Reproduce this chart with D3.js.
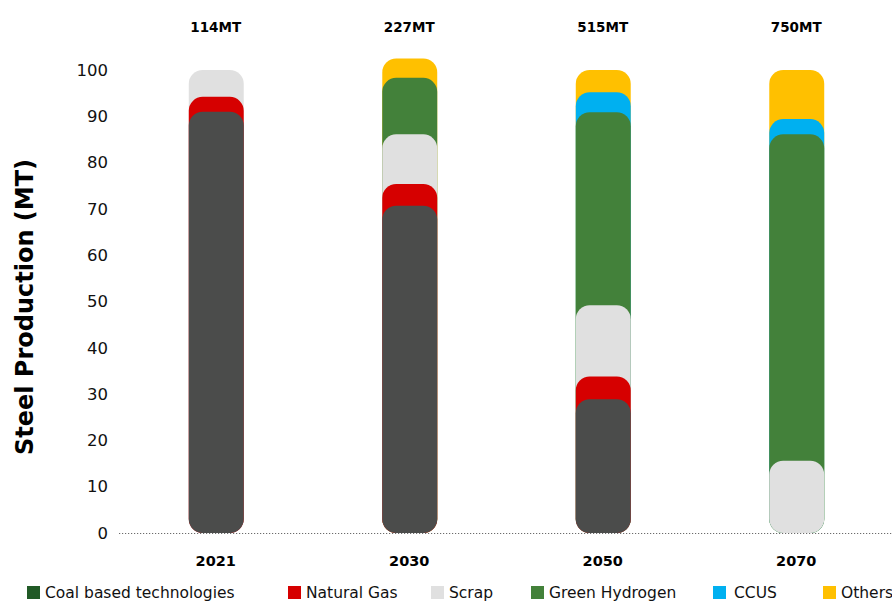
<!DOCTYPE html>
<html><head><meta charset="utf-8">
<script src="https://cdn.jsdelivr.net/npm/d3@7"></script>
<style>body{margin:0;background:#fff}svg{display:block}</style>
</head><body>
<svg id="c" width="892" height="602"></svg>
<script>
const years = ["2021", "2030", "2050", "2070"];
const totals = ["114MT", "227MT", "515MT", "750MT"];
const seriesNames = ["Coal based technologies", "Natural Gas", "Scrap", "Green Hydrogen", "CCUS", "Others"];
const coal = [91.0, 70.7, 28.9, 0];
const naturalGas = [3.2, 4.7, 4.9, 0];
const scrap = [5.8, 10.7, 15.4, 15.6];
const greenHydrogen = [0, 12.2, 41.7, 70.5];
const ccus = [0, 0, 4.3, 3.3];
const others = [0, 4.2, 4.8, 10.6];
const yTicks = [0, 10, 20, 30, 40, 50, 60, 70, 80, 90, 100];

const barColors = ["#4b4c4b", "#d60000", "#e0e0e0", "#43813a", "#00b0f0", "#ffc000"];
const legendColors = ["#215a26", "#d60000", "#e0e0e0", "#43813a", "#00b0f0", "#ffc000"];
const values = [coal, naturalGas, scrap, greenHydrogen, ccus, others];

const svg = d3.select("#c");
const font = "'DejaVu Sans', sans-serif";

const x = d3.scaleBand().domain(years).range([119, 893]).paddingInner(0.716).paddingOuter(0.358);
const y = d3.scaleLinear().domain([0, 100]).range([533, 70]);

const rows = years.map((yr, i) => {
  let acc = 0;
  const segs = values.map((arr, s) => {
    acc += arr[i];
    return {s, v: arr[i], top: acc};
  });
  return {yr, i, segs};
});

const bw = x.bandwidth();
const g = svg.append("g");
rows.forEach(r => {
  const segs = r.segs.filter(d => d.v > 0).slice().reverse();
  g.selectAll(null).data(segs).enter().append("rect")
    .attr("x", x(r.yr) + 0.5)
    .attr("width", bw)
    .attr("y", d => y(d.top))
    .attr("height", d => y(0) - y(d.top))
    .attr("rx", 14).attr("ry", 14)
    .attr("fill", d => barColors[d.s]);
});

svg.append("line")
  .attr("x1", 119).attr("x2", 892)
  .attr("y1", y(0) + 0.5).attr("y2", y(0) + 0.5)
  .attr("stroke", "#6b6b6b").attr("stroke-width", 1.2)
  .attr("stroke-dasharray", "1.2,1.8");

const ya = svg.append("g").attr("transform", "translate(108,0)")
  .call(d3.axisLeft(y).tickValues(yTicks).tickSize(0).tickPadding(0));
ya.select(".domain").remove();
ya.selectAll("text").attr("font-family", font).attr("font-size", 16.5).attr("fill", "#111");

svg.append("text")
  .attr("transform", "translate(33,307) rotate(-90)")
  .attr("text-anchor", "middle")
  .attr("font-family", font).attr("font-weight", "bold").attr("font-size", 24)
  .attr("fill", "#000").text("Steel Production (MT)");

svg.selectAll(".xl").data(years).enter().append("text")
  .attr("x", d => x(d) + bw / 2).attr("y", 566)
  .attr("text-anchor", "middle")
  .attr("font-family", font).attr("font-weight", "bold").attr("font-size", 14.5)
  .attr("fill", "#000").text(d => d);

svg.selectAll(".tl").data(years).enter().append("text")
  .attr("x", d => x(d) + bw / 2).attr("y", 32)
  .attr("text-anchor", "middle")
  .attr("font-family", font).attr("font-weight", "bold").attr("font-size", 13.5)
  .attr("fill", "#000").text((d, i) => totals[i]);

const legendX = [27, 288, 431, 531, 713, 823];
const lg = svg.selectAll(".lg").data(seriesNames).enter().append("g")
  .attr("transform", (d, i) => `translate(${legendX[i]},586)`);
lg.append("rect").attr("width", 13).attr("height", 13).attr("fill", (d, i) => legendColors[i]);
lg.append("text").attr("x", (d, i) => i === 4 ? 21 : 18).attr("y", 12)
  .attr("font-family", font).attr("font-size", 15.5).attr("fill", "#111").text(d => d);
</script>
</body></html>
